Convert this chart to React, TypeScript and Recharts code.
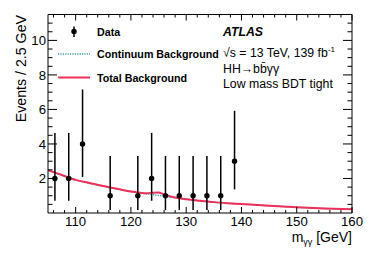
import React from "react";
import { ComposedChart, Line, Scatter, ErrorBar, XAxis, YAxis, Customized } from "recharts";

// data points (2.5 GeV bins), with asymmetric Poisson errors
const binCenters = [106.25, 108.75, 111.25, 116.25, 121.25, 123.75, 126.25, 128.75, 131.25, 133.75, 136.25, 138.75];
const counts = [2, 2, 4, 1, 1, 2, 1, 1, 1, 1, 1, 3];
const errLow = [1.29, 1.29, 1.91, 0.83, 0.83, 1.29, 0.83, 0.83, 0.83, 0.83, 0.83, 1.63];
const errHigh = [2.64, 2.64, 3.16, 2.3, 2.3, 2.64, 2.3, 2.3, 2.3, 2.3, 2.3, 2.92];

// background curves
const bkgMass = [105, 107.5, 110, 112.5, 115, 117.5, 120, 122, 123, 124, 125, 126, 127, 128, 130, 132.5, 135, 137.5, 140, 145, 150, 155, 160];
const totalBkg = [2.48, 2.2, 1.92, 1.74, 1.56, 1.4, 1.25, 1.16, 1.15, 1.18, 1.19, 1.07, 0.97, 0.9, 0.8, 0.71, 0.63, 0.57, 0.52, 0.42, 0.33, 0.26, 0.21];
const continuumBkg = [2.48, 2.2, 1.92, 1.74, 1.56, 1.4, 1.25, 1.14, 1.1, 1.06, 1.02, 0.98, 0.93, 0.88, 0.8, 0.71, 0.63, 0.57, 0.52, 0.42, 0.33, 0.26, 0.21];

// ticks
const xMajor = [110, 120, 130, 140, 150, 160];
const xMinor = [106, 108, 112, 114, 116, 118, 122, 124, 126, 128, 132, 134, 136, 138, 142, 144, 146, 148, 152, 154, 156, 158];
const yMajor = [2, 4, 6, 8, 10];
const yMinor = [0.5, 1, 1.5, 2.5, 3, 3.5, 4.5, 5, 5.5, 6.5, 7, 7.5, 8.5, 9, 9.5, 10.5, 11, 11.5];

const points = binCenters.map((x, i) => ({ x, y: counts[i], err: [errLow[i], errHigh[i]] }));
const totalData = bkgMass.map((x, i) => ({ x, y: totalBkg[i] }));
const contData = bkgMass.map((x, i) => ({ x, y: continuumBkg[i] }));

const font = "'Liberation Sans', Arial, Helvetica, sans-serif";
const red = "#ee2f5b";
const teal = "#3a9ea6";
const tickFont = 13.2;

function XTick(props: any) {
  const { x, y, payload, top } = props;
  const major = xMajor.includes(payload.value);
  const len = major ? 6 : 3;
  return (
    <g>
      <line x1={x} x2={x} y1={y} y2={top ? y + len : y - len} stroke="#000" strokeWidth={1} />
      {!top && major && (
        <text x={x} y={y + 13} textAnchor="middle" fontSize={tickFont} fontFamily={font} fill="#000">
          {payload.value}
        </text>
      )}
    </g>
  );
}

function YTick(props: any) {
  const { x, y, payload, right } = props;
  const major = yMajor.includes(payload.value);
  const len = major ? 9 : 4.5;
  return (
    <g>
      <line x1={x} x2={right ? x - len : x + len} y1={y} y2={y} stroke="#000" strokeWidth={1} />
      {!right && major && (
        <text x={x - 2} y={y + 5} textAnchor="end" fontSize={tickFont} fontFamily={font} fill="#000">
          {payload.value}
        </text>
      )}
    </g>
  );
}

function Annotations() {
  return (
    <g fontFamily={font} fill="#000">
      <text transform="translate(25.5,15) rotate(-90)" textAnchor="end" fontSize={14.2}>
        Events / 2.5 GeV
      </text>
      <text x={352} y={241.5} textAnchor="end" fontSize={14}>
        m<tspan fontSize={9} dy={3}>γγ</tspan>
        <tspan dy={-3}> [GeV]</tspan>
      </text>

      {/* legend */}
      <line x1={74} x2={74} y1={26.5} y2={37} stroke="#000" strokeWidth={1.5} />
      <circle cx={74} cy={31.5} r={2.7} fill="#000" />
      <text x={97} y={36} fontSize={10.7} fontWeight="bold">Data</text>
      <line x1={58} x2={90} y1={54} y2={54} stroke={teal} strokeWidth={1.5} strokeDasharray="1.2 1.2" />
      <text x={97} y={58.3} fontSize={10.7} fontWeight="bold">Continuum Background</text>
      <line x1={58} x2={90} y1={77.5} y2={77.5} stroke={red} strokeWidth={2} />
      <text x={97} y={82} fontSize={10.7} fontWeight="bold">Total Background</text>

      {/* ATLAS label */}
      <text x={223} y={36} fontSize={12.3} fontWeight="bold" fontStyle="italic">ATLAS</text>
      <text x={223} y={57} fontSize={12.3}>
        √s = 13 TeV, 139 fb<tspan fontSize={8} dy={-5}>-1</tspan>
      </text>
      <text x={223} y={73} fontSize={12.3}>HH→bb̄γγ</text>
      <text x={223} y={88} fontSize={12.3}>Low mass BDT tight</text>
    </g>
  );
}

export default function App() {
  return (
    <div style={{ position: "absolute", left: 0, top: 0, width: 374, height: 253, background: "#fff" }}>
      <ComposedChart width={374} height={253} margin={{ top: 0, right: 0, bottom: 0, left: 0 }}>
        <XAxis xAxisId="b" type="number" dataKey="x" domain={[105, 160]} ticks={[...xMajor, ...xMinor]}
          interval={0} allowDataOverflow orientation="bottom" height={40} tickSize={0} tickMargin={0}
          stroke="#000" tick={<XTick />} />
        <XAxis xAxisId="t" type="number" dataKey="x" domain={[105, 160]} ticks={[...xMajor, ...xMinor]}
          interval={0} allowDataOverflow orientation="top" height={14.5} tickSize={0} tickMargin={0}
          stroke="#000" tick={<XTick top />} />
        <YAxis yAxisId="l" type="number" domain={[0, 11.5]} ticks={[...yMajor, ...yMinor]}
          interval={0} allowDataOverflow orientation="left" width={48} tickSize={0} tickMargin={0}
          stroke="#000" tick={<YTick />} />
        <YAxis yAxisId="r" type="number" domain={[0, 11.5]} ticks={[...yMajor, ...yMinor]}
          interval={0} allowDataOverflow orientation="right" width={22} tickSize={0} tickMargin={0}
          stroke="#000" tick={<YTick right />} />
        <Line xAxisId="b" yAxisId="l" data={contData} dataKey="y" type="monotone" stroke={teal}
          strokeWidth={1.5} strokeDasharray="1.2 1.2" dot={false} isAnimationActive={false} />
        <Line xAxisId="b" yAxisId="l" data={totalData} dataKey="y" type="monotone" stroke={red}
          strokeWidth={2} dot={false} isAnimationActive={false} />
        <Scatter xAxisId="b" yAxisId="l" data={points} dataKey="y" isAnimationActive={false}
          shape={(p: any) => <circle cx={p.cx} cy={p.cy} r={2.7} fill="#000" />}>
          <ErrorBar dataKey="err" direction="y" width={0} stroke="#000" strokeWidth={1.5} />
        </Scatter>
        <Customized component={<Annotations />} />
      </ComposedChart>
    </div>
  );
}
